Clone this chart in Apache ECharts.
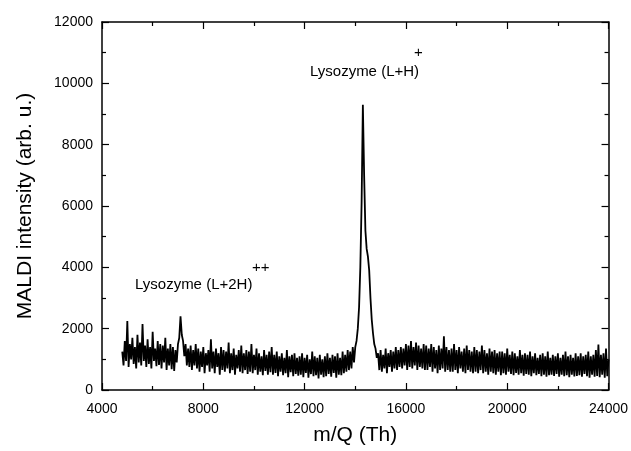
<!DOCTYPE html>
<html>
<head>
<meta charset="utf-8">
<script src="https://cdn.jsdelivr.net/npm/echarts@6/dist/echarts.min.js"></script>
<style>
html,body{margin:0;padding:0;background:#fff;}
#c{width:631px;height:451px;}
</style>
</head>
<body>
<div id="c"></div>
<script>
var mzStart = 4800;
var mzStep = 50;
var intensity = [
// 4800-5750
1250, 800, 1600, 950, 2250, 750, 1500, 1000, 1700, 850, 1400, 700, 1800, 900, 1550, 800, 2150, 950, 1450, 750,
// 5800-6750
1650, 850, 1400, 700, 1900, 950, 1350, 780, 1600, 820, 1500, 700, 1450, 900, 1700, 650, 1350, 800, 1500, 680,
// 6800-7750
1400, 620, 1300, 900, 1500, 1700, 2400, 1800, 1600, 1100, 1500, 800, 1350, 750, 1450, 650, 1300, 800, 1500, 700,
// 7800-8750
1350, 600, 1250, 750, 1400, 550, 1200, 800, 1300, 600, 1650, 700, 1250, 550, 1350, 750, 1200, 500, 1400, 650,
// 8800-9750
1300, 600, 1250, 700, 1550, 550, 1200, 650, 1350, 500, 1150, 700, 1300, 600, 1450, 550, 1200, 650, 1300, 520,
// 9800-10750
1250, 600, 1500, 550, 1150, 650, 1350, 500, 1200, 600, 1100, 480, 1300, 620, 1150, 500, 1250, 580, 1400, 500,
// 10800-11750
1150, 560, 1250, 450, 1100, 600, 1200, 480, 1050, 550, 1300, 420, 1100, 580, 1150, 450, 1200, 520, 1050, 470,
// 11800-12750
1100, 500, 1200, 420, 1050, 560, 1150, 400, 1000, 520, 1250, 450, 1100, 480, 1050, 380, 1150, 500, 1000, 420,
// 12800-13750
1100, 450, 1200, 520, 1050, 430, 1150, 560, 1100, 400, 1200, 500, 1050, 480, 1250, 550, 1150, 600, 1300, 650,
// 13800-14750
1250, 700, 1400, 900, 1400, 1600, 2000, 2700, 4000, 6100, 9300, 7000, 5200, 4600, 4350, 3900, 3000, 2300, 1850, 1500,
// 14800-15750
1350, 1050, 1200, 650, 1300, 600, 1150, 700, 1350, 550, 1200, 750, 1300, 600, 1250, 700, 1400, 650, 1300, 750,
// 15800-16750
1400, 700, 1350, 800, 1500, 650, 1450, 750, 1600, 700, 1400, 800, 1550, 650, 1450, 750, 1350, 700, 1500, 650,
// 16800-17750
1450, 650, 1350, 750, 1500, 600, 1400, 700, 1300, 550, 1450, 650, 1350, 700, 1750, 600, 1400, 650, 1300, 600,
// 17800-18750
1350, 600, 1500, 650, 1300, 550, 1400, 700, 1250, 600, 1350, 550, 1450, 650, 1300, 600, 1250, 550, 1400, 600,
// 18800-19750
1300, 550, 1250, 650, 1450, 550, 1300, 600, 1200, 500, 1350, 600, 1250, 550, 1300, 500, 1200, 600, 1250, 480,
// 19800-20750
1250, 550, 1200, 500, 1350, 600, 1150, 520, 1250, 480, 1200, 560, 1100, 500, 1300, 550, 1150, 470, 1200, 520,
// 20800-21750
1150, 500, 1250, 450, 1100, 550, 1200, 480, 1050, 520, 1150, 450, 1200, 500, 1100, 430, 1250, 480, 1050, 500,
// 21800-22750
1150, 460, 1100, 520, 1200, 430, 1050, 500, 1150, 450, 1250, 480, 1100, 420, 1150, 500, 1050, 440, 1200, 460,
// 22800-23750
1100, 480, 1200, 430, 1100, 520, 1150, 450, 1250, 400, 1100, 500, 1150, 430, 1300, 460, 1480, 420, 1150, 500,
// 23800-24000
1200, 400, 1350, 450, 1000
];

var xMin = 4000, xMax = 24000, xInterval = 4000;
var yMin = 0, yMax = 12000, yInterval = 2000;
var xTitle = 'm/Q (Th)';
var yTitle = 'MALDI intensity (arb. u.)';
var annotations = [
  {text: 'Lysozyme (L+H)', sup: '+'},
  {text: 'Lysozyme (L+2H)', sup: '++'}
];

var seriesData = intensity.map(function (v, i) { return [mzStart + i * mzStep, v]; });

var FONT = 'Liberation Sans, Arial, Helvetica, sans-serif';
var chart = echarts.init(document.getElementById('c'), null, {renderer: 'canvas'});

function plain(v) { return String(v); }

function axisCommon(extra) {
  var a = {
    axisLine: {show: true, onZero: false, lineStyle: {color: '#000', width: 1.5}},
    axisTick: {show: true, inside: true, length: 7, lineStyle: {color: '#000', width: 1.2}},
    minorTick: {show: true, splitNumber: 2, length: 4, lineStyle: {color: '#000', width: 1.2}},
    splitLine: {show: false},
    minorSplitLine: {show: false}
  };
  for (var k in extra) a[k] = extra[k];
  return a;
}

chart.setOption({
  animation: false,
  backgroundColor: '#fff',
  grid: {left: 102, right: 20, top: 22, bottom: 59, show: false},
  xAxis: [
    axisCommon({
      type: 'value', min: xMin, max: xMax, interval: xInterval, position: 'bottom',
      axisLabel: {color: '#000', fontFamily: FONT, fontSize: 14, margin: 12, formatter: plain},
      name: xTitle, nameLocation: 'middle', nameGap: 35,
      nameTextStyle: {color: '#000', fontFamily: FONT, fontSize: 21}
    }),
    axisCommon({
      type: 'value', min: xMin, max: xMax, interval: xInterval, position: 'top',
      axisLabel: {show: false}
    })
  ],
  yAxis: [
    axisCommon({
      type: 'value', min: yMin, max: yMax, interval: yInterval, position: 'left',
      axisLabel: {color: '#000', fontFamily: FONT, fontSize: 14, margin: 9, formatter: plain},
      name: yTitle, nameLocation: 'middle', nameGap: 66, nameRotate: 90,
      nameTextStyle: {color: '#000', fontFamily: FONT, fontSize: 21}
    }),
    axisCommon({
      type: 'value', min: yMin, max: yMax, interval: yInterval, position: 'right',
      axisLabel: {show: false}
    })
  ],
  series: [{
    type: 'line',
    xAxisIndex: 0, yAxisIndex: 0,
    data: seriesData,
    showSymbol: false,
    symbol: 'none',
    sampling: null,
    lineStyle: {color: '#000', width: 1.8, join: 'miter', miterLimit: 4},
    z: 1
  }],
  graphic: [
    {type: 'text', left: 310, top: 64, style: {text: annotations[0].text, fill: '#000', font: '15px ' + FONT}},
    {type: 'text', left: 414, top: 45, style: {text: annotations[0].sup, fill: '#000', font: '15px ' + FONT}},
    {type: 'text', left: 135, top: 277, style: {text: annotations[1].text, fill: '#000', font: '15px ' + FONT}},
    {type: 'text', left: 252, top: 260, style: {text: annotations[1].sup, fill: '#000', font: '15px ' + FONT}}
  ]
});
</script>
</body>
</html>
